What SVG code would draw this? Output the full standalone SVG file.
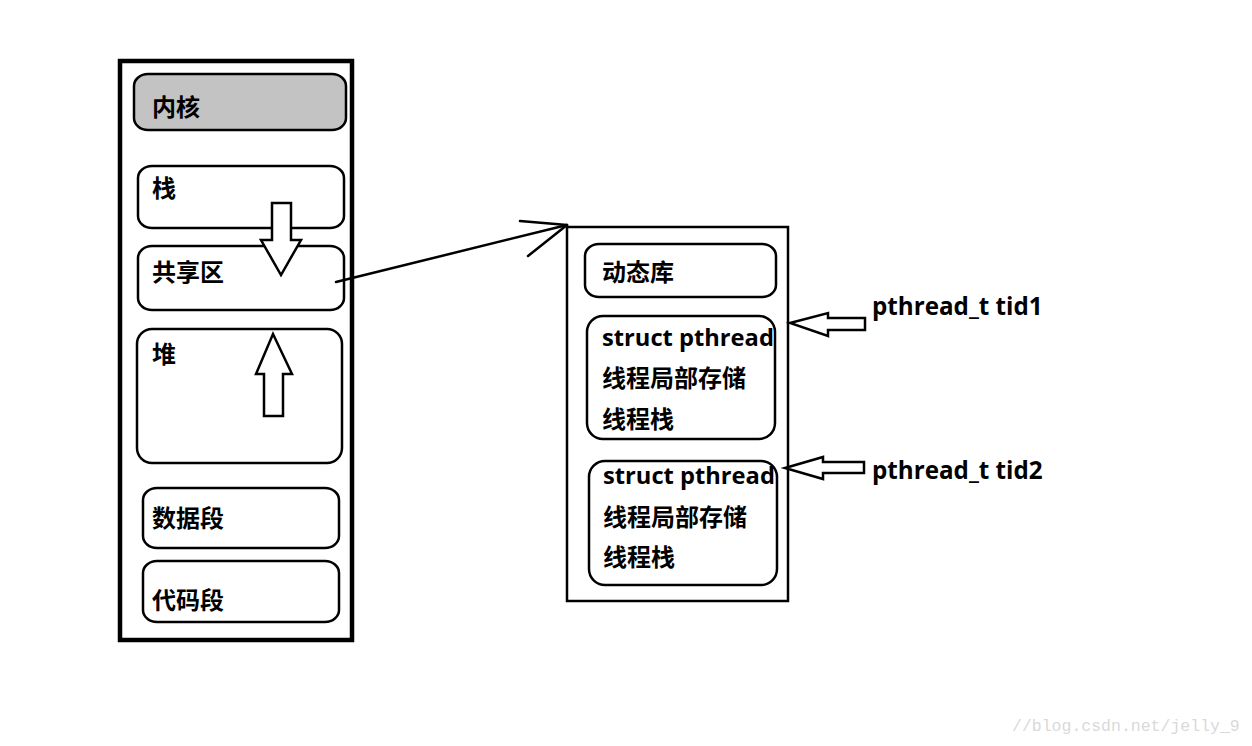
<svg xmlns="http://www.w3.org/2000/svg" width="1252" height="746" viewBox="0 0 1252 746">
<style>
.box{fill:#fff;stroke:#000;stroke-width:2.5}
.cn{font-family:"Liberation Sans","Noto Sans CJK SC",sans-serif;font-weight:bold;font-size:24px;fill:#000}
.en{font-family:"Open Sans","Liberation Sans",sans-serif;font-weight:bold;font-size:23.7px;fill:#000}
.arr{fill:#fff;stroke:#000;stroke-width:2.5;stroke-linejoin:miter}
.ln{fill:none;stroke:#000;stroke-width:2.5;stroke-linecap:round}
</style>
<rect width="1252" height="746" fill="#fff"/>
<g id="process">
<rect x="120" y="61" width="232" height="579" fill="#fff" stroke="#000" stroke-width="4.5"/>
</g>
<g id="kernel">
<rect x="134" y="74" width="212" height="56" rx="14" ry="12" class="box" style="fill:#c3c3c3"/>
<text x="152" y="116" class="cn">内核</text>
</g>
<g id="stack">
<rect x="138" y="166" width="206" height="62" rx="14" ry="12" class="box"/>
<text x="152" y="197" class="cn">栈</text>
</g>
<g id="shared">
<rect x="138" y="246" width="206" height="64" rx="14" ry="12" class="box"/>
<text x="152" y="281" class="cn">共享区</text>
</g>
<g id="heap">
<rect x="137" y="329" width="205" height="134" rx="15" ry="15" class="box"/>
<text x="152" y="363" class="cn">堆</text>
</g>
<g id="data">
<rect x="143" y="488" width="196" height="60" rx="14" ry="12" class="box"/>
<text x="152" y="527" class="cn">数据段</text>
</g>
<g id="code">
<rect x="143" y="561" width="196" height="61" rx="14" ry="12" class="box"/>
<text x="152" y="609" class="cn">代码段</text>
</g>
<g id="mmap">
<rect x="567" y="227" width="221" height="374" fill="#fff" stroke="#000" stroke-width="2.5"/>
</g>
<g id="dynlib">
<rect x="585" y="244" width="191" height="53" rx="14" ry="12" class="box"/>
<text x="602" y="281" class="cn">动态库</text>
</g>
<g id="thread1">
<rect x="587" y="316" width="188" height="123" rx="16" ry="16" class="box"/>
<text x="602" y="346" class="en">struct pthread</text>
<text x="602" y="387" class="cn">线程局部存储</text>
<text x="602" y="428" class="cn">线程栈</text>
</g>
<g id="thread2">
<rect x="589" y="461" width="188" height="124" rx="16" ry="16" class="box"/>
<text x="603" y="484" class="en">struct pthread</text>
<text x="603" y="526" class="cn">线程局部存储</text>
<text x="603" y="566" class="cn">线程栈</text>
</g>
<g id="tid1">
<text x="872" y="315" class="en" style="font-size:24.2px">pthread_t tid1</text>
</g>
<g id="tid2">
<text x="872" y="479" class="en" style="font-size:24.2px">pthread_t tid2</text>
</g>
<g id="connectors">
<polygon class="arr" points="272,203 291,203 291,240 301,240 281,275 261,240 272,240"/>
<polygon class="arr" points="273,334 292,374 283,374 283,416 264,416 264,374 256,374"/>
<line class="ln" x1="336" y1="282" x2="567" y2="225"/>
<line class="ln" x1="567" y1="225" x2="520" y2="221"/>
<line class="ln" x1="567" y1="225" x2="528" y2="256"/>
<polygon class="arr" points="790,323 828,313 828,318 865,318 865,330 828,330 828,336"/>
<polygon class="arr" points="785,468 823,457 823,462 864,462 864,473 823,473 823,479"/>
</g>
<text x="1012" y="731" style="font-family:'Liberation Mono',monospace;font-size:16.5px;fill:#d9d9d9">//blog.csdn.net/jelly_9</text>
</svg>
